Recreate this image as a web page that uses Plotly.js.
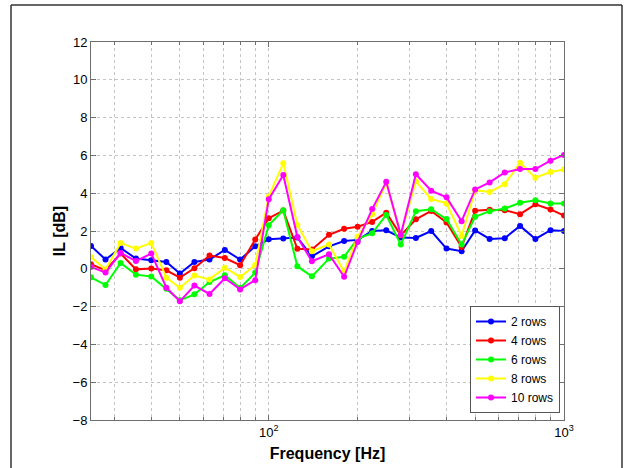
<!DOCTYPE html>
<html>
<head>
<meta charset="utf-8">
<script src="https://cdn.plot.ly/plotly-3.0.1.min.js"></script>
<style>
  html, body { margin: 0; padding: 0; background: #fff; }
  #chart { width: 624px; height: 468px; }
</style>
</head>
<body>
<div id="chart"></div>
<script>
// 1/6-octave centre frequencies [Hz]
const freqs = [25, 28, 31.5, 35.5, 40, 45, 50, 56, 63, 71, 80, 90, 100, 112, 125, 140, 160, 180, 200, 224, 250, 280, 315, 355, 400, 450, 500, 560, 630, 710, 800, 900, 1000];

// Insertion loss [dB]
const rows2  = [1.21, 0.49, 1.10, 0.54, 0.45, 0.36, -0.25, 0.36, 0.49, 1.0, 0.49, 1.19, 1.56, 1.6, 1.66, 0.66, 1.19, 1.47, 1.53, 2.0, 2.04, 1.65, 1.63, 2.0, 1.07, 0.93, 2.03, 1.58, 1.62, 2.27, 1.58, 2.04, 2.0];
const rows4  = [0.24, -0.08, 0.81, -0.03, 0.01, -0.08, -0.47, 0.03, 0.7, 0.57, 0.19, 1.55, 2.68, 3.08, 1.06, 1.02, 1.8, 2.12, 2.23, 2.48, 2.97, 1.77, 2.62, 3.06, 2.45, 1.16, 3.07, 3.12, 3.1, 2.89, 3.41, 3.14, 2.82];
const rows6  = [-0.45, -0.86, 0.31, -0.31, -0.41, -1.05, -1.67, -1.35, -0.7, -0.34, -1.02, -0.2, 2.31, 3.1, 0.13, -0.4, 0.54, 0.64, 1.58, 1.88, 2.85, 1.28, 3.05, 3.15, 2.63, 1.28, 2.75, 3.05, 3.19, 3.49, 3.63, 3.46, 3.46];
const rows8  = [0.63, -0.04, 1.37, 1.07, 1.37, -0.47, -1.0, -0.36, -0.56, 0.06, -0.43, 0.2, 3.83, 5.58, 2.32, 0.93, 1.28, -0.15, 1.7, 2.89, 4.55, 1.8, 4.63, 3.69, 3.46, 1.74, 4.16, 4.07, 4.48, 5.61, 4.82, 5.12, 5.26];
const rows10 = [0.1, -0.2, 0.84, 0.41, 0.81, -1.0, -1.72, -0.89, -1.33, -0.5, -1.09, -0.6, 3.68, 4.96, 1.68, 0.4, 0.77, -0.42, 1.42, 3.16, 4.6, 1.8, 5.0, 4.13, 3.78, 2.52, 4.2, 4.57, 5.1, 5.28, 5.28, 5.72, 6.02];

const seriesNames = ["2 rows", "4 rows", "6 rows", "8 rows", "10 rows"];
const seriesData = [rows2, rows4, rows6, rows8, rows10];
const seriesColors = ["#0000ff", "#ff0000", "#00ff00", "#ffff00", "#ff00ff"];

const yTicks = [-8, -6, -4, -2, 0, 2, 4, 6, 8, 10, 12];
const xMajorTicks = [100, 1000];
const xMajorText = ["10<sup>2</sup>", "10<sup>3</sup>"];
const xMinorTicks = [30, 40, 50, 60, 70, 80, 90, 200, 300, 400, 500, 600, 700, 800, 900];

const traces = seriesData.map((ys, i) => ({
  x: freqs,
  y: ys,
  type: "scatter",
  mode: "lines+markers",
  name: seriesNames[i],
  line: { color: seriesColors[i], width: 2 },
  marker: { color: seriesColors[i], size: 6 }
}));

const axisGray = "#6e6e6e";
const gridGray = "#c4c4c4";

const L = 91, R = 564, T = 42, B = 420;
const pw = R - L, ph = B - T;
const px = v => (v - L) / pw;
const py = v => (B - v) / ph;

const layout = {
  width: 624,
  height: 468,
  paper_bgcolor: "#ffffff",
  plot_bgcolor: "#ffffff",
  margin: { l: L, r: 624 - R, t: T, b: 468 - B, pad: 0 },
  font: { family: "Liberation Sans, Arial, sans-serif", size: 13, color: "#000" },
  showlegend: true,
  xaxis: {
    type: "log",
    range: [Math.log10(25), 3],
    tickmode: "array",
    tickvals: xMajorTicks,
    ticktext: xMajorText,
    ticks: "inside",
    ticklen: 5,
    tickcolor: axisGray,
    showline: true,
    linecolor: axisGray,
    linewidth: 1,
    mirror: "ticks",
    showgrid: true,
    gridcolor: gridGray,
    griddash: "dot",
    zeroline: false,
    tickfont: { size: 13 },
    minor: {
      tickvals: xMinorTicks,
      ticks: "inside",
      ticklen: 3,
      tickcolor: axisGray,
      showgrid: true,
      gridcolor: gridGray,
      griddash: "dot"
    },
    title: { text: "Frequency [Hz]", font: { size: 16, weight: "bold" }, standoff: 9 }
  },
  yaxis: {
    range: [-8, 12],
    tickmode: "array",
    tickvals: yTicks,
    ticks: "inside",
    ticklen: 5,
    tickcolor: axisGray,
    showline: true,
    linecolor: axisGray,
    linewidth: 1,
    mirror: "ticks",
    showgrid: true,
    gridcolor: gridGray,
    griddash: "dot",
    zeroline: false,
    tickfont: { size: 13 },
    title: { text: "IL [dB]", font: { size: 16, weight: "bold" }, standoff: 2 }
  },
  legend: {
    x: px(560),
    y: py(413),
    xanchor: "right",
    yanchor: "bottom",
    bgcolor: "#ffffff",
    bordercolor: "#555555",
    borderwidth: 1,
    font: { size: 12 },
    tracegroupgap: 0
  },
  shapes: [
    { type: "line", xref: "paper", yref: "paper", x0: px(11), x1: px(11), y0: py(5), y1: py(475), line: { color: "#333", width: 1.5 } },
    { type: "line", xref: "paper", yref: "paper", x0: px(11), x1: px(622), y0: py(5), y1: py(5), line: { color: "#333", width: 1.5 } },
    { type: "line", xref: "paper", yref: "paper", x0: px(622), x1: px(622), y0: py(5), y1: py(475), line: { color: "#333", width: 1.5 } }
  ]
};

Plotly.newPlot("chart", traces, layout, { staticPlot: true, displayModeBar: false });
</script>
</body>
</html>
